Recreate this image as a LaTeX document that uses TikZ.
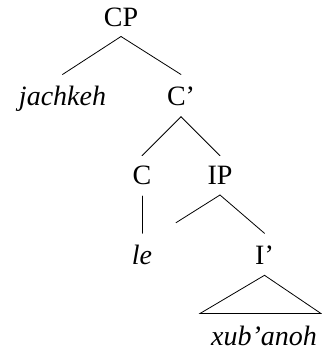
\documentclass[tikz,border=0pt]{standalone}
\usepackage{fontspec}
\setmainfont{Liberation Serif}
\begin{document}
\begin{tikzpicture}[x=1pt,y=-1pt,
  lbl/.style={anchor=base,inner sep=0pt,font=\fontsize{28}{30}\selectfont},
  ilbl/.style={lbl,font=\fontsize{28}{30}\selectfont\itshape},
  edge/.style={line width=0.8pt,line cap=round}]
\useasboundingbox (0,0) rectangle (321,352);
\node[lbl] (CP) at (121,26.7) {CP};
\node[ilbl] (jach) at (62.5,106) {jachkeh};
\node[lbl] (Cbar) at (181,106) {C’};
\node[lbl] (C) at (142,185) {C};
\node[lbl] (IP) at (220,185) {IP};
\node[ilbl] (le) at (142,264.3) {le};
\node[lbl] (Ibar) at (264.5,264.3) {I’};
\node[ilbl] (xub) at (264,345) {xub’anoh};
\coordinate (spec) at (176,222.7);
\draw[edge] ([yshift=-9.8pt]CP.base) -- ([yshift=31.5pt]jach.base);
\draw[edge] ([yshift=-9.8pt]CP.base) -- ([yshift=31.5pt]Cbar.base);
\draw[edge] ([yshift=-10.7pt]Cbar.base) -- ([yshift=29.3pt]C.base);
\draw[edge] ([yshift=-10.7pt]Cbar.base) -- ([yshift=29.3pt]IP.base);
\draw[edge] ([yshift=-11pt]C.base) -- ([yshift=31pt]le.base);
\draw[edge] ([yshift=-10pt]IP.base) -- (spec);
\draw[edge] ([yshift=-10pt]IP.base) -- ([yshift=31pt]Ibar.base);
\draw[edge,line join=miter] ([yshift=-11pt]Ibar.base) -- ([xshift=-64pt,yshift=31.5pt]xub.base) -- ([xshift=57pt,yshift=31.5pt]xub.base) -- cycle;
\end{tikzpicture}
\end{document}
